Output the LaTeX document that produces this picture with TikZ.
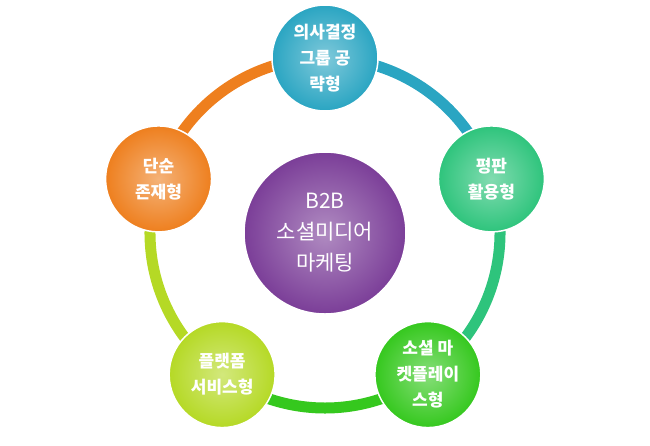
\documentclass[tikz,border=0pt]{standalone}
\usepackage{fontspec}
\newfontfamily\kr{Noto Sans CJK KR}
\usepackage{tikz}
\definecolor{cTop}{HTML}{2AA5C2}
\definecolor{cRight}{HTML}{2EC47C}
\definecolor{cBR}{HTML}{35C81E}
\definecolor{cBL}{HTML}{B5D925}
\definecolor{cLeft}{HTML}{EE7F1E}
\definecolor{cMid}{HTML}{7B3E98}
\begin{document}
\begin{tikzpicture}[
  x=1pt,y=-1pt,
  ball/.style={circle,minimum size=106pt,inner sep=0pt,align=center,
    draw=white,line width=1.5pt,font=\kr\bfseries\fontsize{17}{26}\selectfont,
    text=white,inner color=#1!60,outer color=#1},
  ring/.style={line width=11pt,#1}
]
\useasboundingbox (0,0) rectangle (650,445);
\coordinate (c) at (325,233);
\coordinate (pTop)   at ([shift={(-90:175)}]c);
\coordinate (pRight) at ([shift={(-18:175)}]c);
\coordinate (pBR)    at ([shift={(54:175)}]c);
\coordinate (pBL)    at ([shift={(126:175)}]c);
\coordinate (pLeft)  at ([shift={(198:175)}]c);

% ring segments
\draw[ring=cTop]   (pTop)   arc[start angle=-90,end angle=-18,radius=175];
\draw[ring=cRight] (pRight) arc[start angle=-18,end angle=54,radius=175];
\draw[ring=cBR]    (pBR)    arc[start angle=54,end angle=126,radius=175];
\draw[ring=cBL]    (pBL)    arc[start angle=126,end angle=198,radius=175];
\draw[ring=cLeft]  (pLeft)  arc[start angle=198,end angle=270,radius=175];

\node[ball=cTop]   (top)   at (pTop)   {의사결정\\그룹 공\\략형};
\node[ball=cRight] (right) at (pRight) {평판\\활용형};
\node[ball=cBR]    (br)    at (pBR)    {소셜 마\\켓플레이\\스형};
\node[ball=cBL]    (bl)    at (pBL)    {플랫폼\\서비스형};
\node[ball=cLeft]  (left)  at (pLeft)  {단순\\존재형};
\node[ball=cMid,minimum size=162pt,font=\kr\fontsize{21}{31}\selectfont] (mid) at (c) {B2B\\소셜미디어\\마케팅};
\end{tikzpicture}
\end{document}
